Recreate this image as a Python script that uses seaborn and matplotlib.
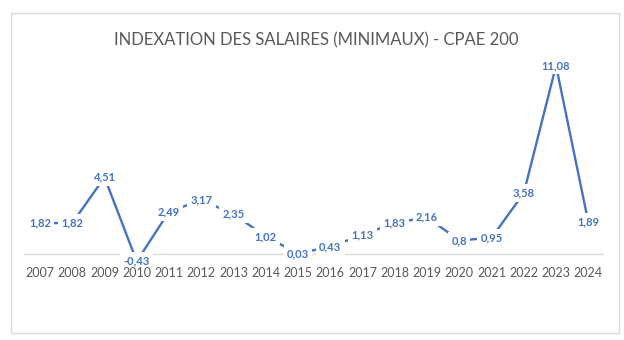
import matplotlib
matplotlib.use("Agg")
import matplotlib.pyplot as plt
import seaborn as sns
import pandas as pd
from matplotlib.patches import Rectangle

years = ["2007", "2008", "2009", "2010", "2011", "2012", "2013", "2014", "2015",
         "2016", "2017", "2018", "2019", "2020", "2021", "2022", "2023", "2024"]
values = [1.82, 1.82, 4.51, -0.43, 2.49, 3.17, 2.35, 1.02, 0.03,
          0.43, 1.13, 1.83, 2.16, 0.8, 0.95, 3.58, 11.08, 1.89]
labels = ["1,82", "1,82", "4,51", "-0,43", "2,49", "3,17", "2,35", "1,02", "0,03",
          "0,43", "1,13", "1,83", "2,16", "0,8", "0,95", "3,58", "11,08", "1,89"]
title = "INDEXATION DES SALAIRES (MINIMAUX) - CPAE 200"

BLUE = "#4472C4"
GREY = "#595959"

sns.set_theme(style="white")
plt.rcParams['font.family'] = ['Lato', 'DejaVu Sans']

df = pd.DataFrame({"x": list(range(len(years))), "y": values})

fig = plt.figure(figsize=(6.24, 3.4), dpi=100)
fig.patch.set_facecolor("white")
fig.patches.append(Rectangle((11/624, 7/340), 608/624, 320/340, transform=fig.transFigure,
                             fill=False, edgecolor="#D9D9D9", linewidth=1.0, zorder=0))

ax = fig.add_axes([23.9/624, (340-262.5)/340, 580.5/624, 212.5/340])
ax.set_facecolor("none")
ax.axhline(0, color="#D9D9D9", lw=1.0, zorder=1)
sns.lineplot(data=df, x="x", y="y", ax=ax, color=BLUE, linewidth=1.7, zorder=2)

for i, (v, lab) in enumerate(zip(values, labels)):
    ax.text(i, v, lab, ha="center", va="center", fontsize=8, fontweight="bold",
            color=BLUE, zorder=3,
            bbox=dict(boxstyle="square,pad=0.3", facecolor="white", edgecolor="none"))

ax.set_xlim(-0.5, len(years) - 0.5)
ax.set_ylim(-0.5, 12)
ax.set_xticks(range(len(years)))
ax.set_xticklabels(years, fontsize=9, color=GREY)
ax.tick_params(axis="x", length=0, pad=3)
ax.xaxis.set_zorder(4)
ax.set_yticks([])
ax.set_xlabel("")
ax.set_ylabel("")
for s in ax.spines.values():
    s.set_visible(False)

fig.text(316/624, 1 - 40/340, title, ha="center", va="center", fontsize=12,
         color=GREY, fontweight="normal")

fig.savefig("out.png", dpi=100)
